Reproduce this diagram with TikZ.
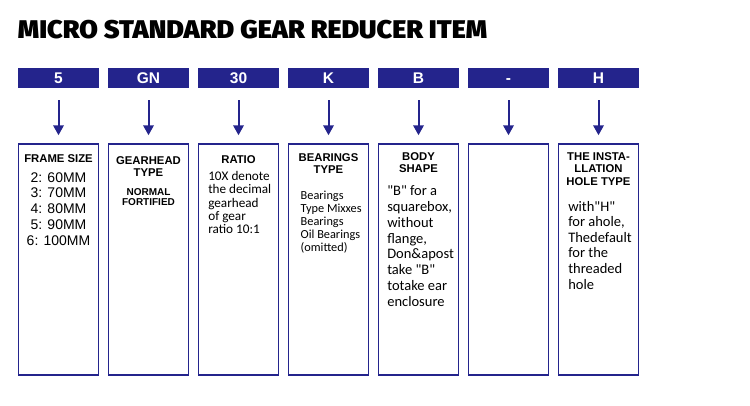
\documentclass[tikz,border=0pt]{standalone}
\usepackage{fontspec}
\usepackage{graphicx}
\usetikzlibrary{arrows.meta}
\setmainfont{Liberation Sans}
\newfontfamily\bodyfont{Carlito}
\newfontfamily\titlefont{Fira Sans Black}
\definecolor{navy}{RGB}{36,36,140}
\tikzset{
  hdr/.style={fill=navy, draw=none, minimum width=81pt, minimum height=20pt, inner sep=0pt,
    text=white, text height=11.4pt, text depth=0pt},
  cell/.style={draw=navy, line width=1.3pt, minimum width=80pt, minimum height=231pt, inner sep=0pt},
  arr/.style={draw=navy, line width=2pt, -{Triangle[width=10.5pt,length=10pt]}},
  txt/.style={inner sep=0pt, outer sep=0pt}
}
\newcommand{\hdrfont}{\fontsize{15.5}{15.5}\selectfont\bfseries}
\newcommand{\headtxt}[2][11.3]{\parbox[t]{78pt}{\centering\lineskiplimit=-20pt\fontsize{#1}{12.2}\selectfont\bfseries #2}}
\newcommand{\bodytxt}[3]{\parbox[t]{78pt}{\raggedright\lineskiplimit=-20pt\bodyfont\fontsize{#1}{#2}\selectfont #3}}
\begin{document}
\begin{tikzpicture}[x=1pt,y=-1pt]
\useasboundingbox (0,0) rectangle (750,405);
% title
\node[txt, anchor=base west] (title) at (18,38.3)
  {\resizebox{469pt}{18.3pt}{\titlefont MICRO STANDARD GEAR REDUCER ITEM}};
% headers, boxes, arrows
\foreach \i/\lab in {0/5, 1/GN, 2/30, 3/K, 4/B, 5/-, 6/H} {
  \pgfmathsetmacro{\cx}{18+90*\i+40.5}
  \node[hdr] (h\i) at (\cx,78) {\hdrfont\lab};
  \node[cell] (b\i) at (\cx,259.6) {};
  \draw[arr] ([yshift=-12pt]h\i.south) -- ([yshift=8.2pt]b\i.north);
}
% box 1
\node[txt, anchor=base] (t0) at (58.5,162.3) {\headtxt{FRAME SIZE}};
\node[txt, anchor=base] (l0) at (58.5,182)
  {\parbox[t]{78pt}{\centering\lineskiplimit=-20pt\fontsize{14}{15.75}\selectfont
   2: 60MM\\3: 70MM\\4: 80MM\\5: 90MM\\6: 100MM}};
% box 2
\node[txt, anchor=base] (t1) at (148.5,164) {\headtxt{GEARHEAD\\TYPE}};
\node[txt, anchor=base] (l1) at (148.5,195)
  {\parbox[t]{78pt}{\centering\lineskiplimit=-20pt\fontsize{10}{10}\selectfont\bfseries
   NORMAL\\FORTIFIED}};
% box 3
\node[txt, anchor=base] (t2) at (238.5,163.3) {\headtxt{RATIO}};
\node[txt, anchor=base west] (l2) at (208.3,180.7)
  {\bodytxt{13.2}{13.15}{10X denote\\the decimal\\gearhead\\of gear\\ratio 10:1}};
% box 4
\node[txt, anchor=base] (t3) at (328.5,161.7) {\headtxt{BEARINGS\\TYPE}};
\node[txt, anchor=base west] (l3) at (300.7,199)
  {\bodytxt{12.3}{13}{Bearings\\Type Mixxes\\Bearings\\Oil Bearings\\(omitted)}};
% box 5
\node[txt, anchor=base] (t4) at (418.5,160.7) {\headtxt{BODY\\SHAPE}};
\node[txt, anchor=base west] (l4) at (387.3,195.7)
  {\bodytxt{14.5}{15.8}{"B" for a\\squarebox,\\without\\flange,\\Don\&apost\\take "B"\\totake ear\\enclosure}};
% box 7
\node[txt, anchor=base] (t6) at (598.5,160.7) {\headtxt{THE INSTA-\\LLATION\\HOLE TYPE}};
\node[txt, anchor=base west] (l6) at (568.3,211)
  {\bodytxt{14.5}{15.6}{with"H"\\for ahole,\\Thedefault\\for the\\threaded\\hole}};
\end{tikzpicture}
\end{document}
